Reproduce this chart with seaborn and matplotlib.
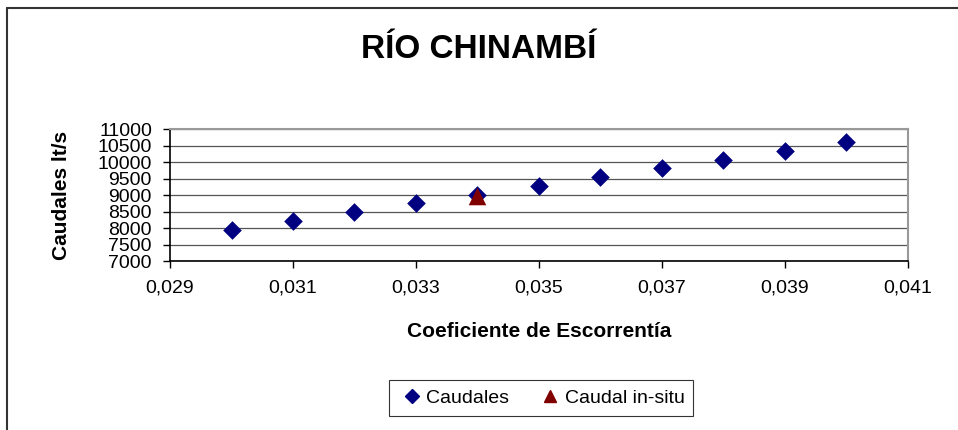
import matplotlib
matplotlib.use("Agg")
import matplotlib.pyplot as plt
import matplotlib.ticker as mticker
import matplotlib.lines as mlines
import seaborn as sns
import pandas as pd

#### chart data ####
coef = [0.030, 0.031, 0.032, 0.033, 0.034, 0.035, 0.036, 0.037, 0.038, 0.039, 0.040]
caudales = [7950, 8215, 8480, 8745, 9010, 9275, 9540, 9805, 10075, 10340, 10605]
coef_insitu = [0.034]
caudal_insitu = [8980]

x_ticks = [0.029, 0.031, 0.033, 0.035, 0.037, 0.039, 0.041]
y_ticks = [7000, 7500, 8000, 8500, 9000, 9500, 10000, 10500, 11000]

df = pd.DataFrame({"coef": coef, "caudal": caudales})
df_in = pd.DataFrame({"coef": coef_insitu, "caudal": caudal_insitu})

sns.set_style("white")
plt.rcParams["font.family"] = ["Liberation Sans", "DejaVu Sans"]
plt.rcParams["text.color"] = "black"
plt.rcParams["axes.labelcolor"] = "black"
plt.rcParams["xtick.color"] = "black"
plt.rcParams["ytick.color"] = "black"

fig = plt.figure(figsize=(9.58, 4.30), dpi=100)
ax = fig.add_axes([0.1775, 0.393, 0.770, 0.307])

sns.scatterplot(data=df, x="coef", y="caudal", marker="D", s=90, color="#000080",
                edgecolor="#000080", linewidth=0, ax=ax, zorder=3)
sns.scatterplot(data=df_in, x="coef", y="caudal", marker="^", s=160, color="#800000",
                edgecolor="#800000", linewidth=0, ax=ax, zorder=4)

ax.set_xlim(0.029, 0.041)
ax.set_ylim(7000, 11000)
ax.set_xticks(x_ticks)
ax.set_yticks(y_ticks)
ax.xaxis.set_major_formatter(mticker.FuncFormatter(lambda v, p: ("%.3f" % v).replace(".", ",")))
ax.tick_params(axis="both", direction="out", length=5, width=1, color="black",
               labelsize=14, labelcolor="black", bottom=True, left=True)
ax.tick_params(axis="x", pad=8)
ax.tick_params(axis="y", pad=8)
ax.grid(axis="y", color="#555555", linewidth=0.9)
ax.set_axisbelow(True)

for side in ["top", "right"]:
    ax.spines[side].set_color("#999999")
    ax.spines[side].set_linewidth(1.5)
for side in ["left", "bottom"]:
    ax.spines[side].set_color("black")
    ax.spines[side].set_linewidth(1.2)

ax.set_xlabel("Coeficiente de Escorrentía", fontsize=15, fontweight="bold", labelpad=19, color="black")
ax.set_ylabel("Caudales lt/s", fontsize=15, fontweight="bold", labelpad=19, color="black")

fig.text(0.5, 0.885, "RÍO CHINAMBÍ", ha="center", va="center", fontsize=24,
         fontweight="bold", color="black")

# legend below
h1 = mlines.Line2D([], [], color="#000080", marker="D", linestyle="none", markersize=7)
h2 = mlines.Line2D([], [], color="#800000", marker="^", linestyle="none", markersize=9)
leg = fig.legend([h1, h2], ["Caudales", "Caudal in-situ"], loc="center",
                 bbox_to_anchor=(0.565, 0.0744), ncol=2, fontsize=14, frameon=True,
                 fancybox=False, edgecolor="black", handletextpad=0.05,
                 columnspacing=1.4, borderpad=0.45, handlelength=1.4)
leg.get_frame().set_linewidth(0.8)
for t in leg.get_texts():
    t.set_color("black")

# chart area border (top and left visible)
fig.add_artist(mlines.Line2D([0.0068, 1.0], [0.9825, 0.9825], transform=fig.transFigure,
                             color="#333333", linewidth=1.5))
fig.add_artist(mlines.Line2D([0.0068, 0.0068], [0.0, 0.9825], transform=fig.transFigure,
                             color="#333333", linewidth=1.5))

fig.savefig("out.png", dpi=100, facecolor="white")
